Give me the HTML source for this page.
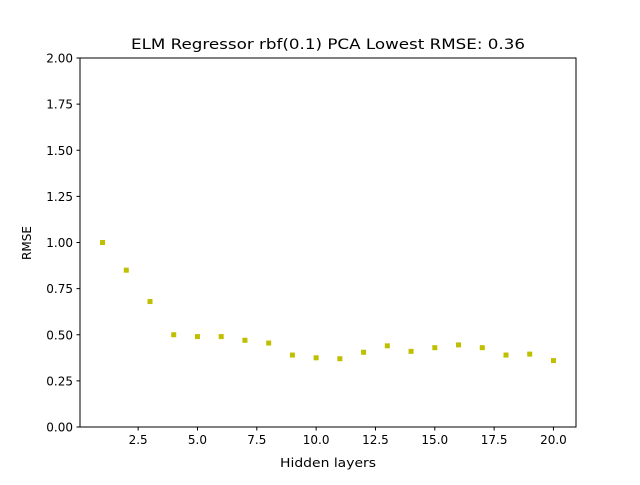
<!DOCTYPE html>
<html><head><meta charset="utf-8"><style>
body{margin:0;background:#fff;}
svg text{font-family:"DejaVu Sans","Liberation Sans",sans-serif;fill:#000;}
</style></head><body>
<svg id="chart" width="640" height="480" xmlns="http://www.w3.org/2000/svg">
<rect width="640" height="480" fill="#fff"/>
<text x="131" y="49" font-size="14.4" textLength="394" lengthAdjust="spacingAndGlyphs">ELM Regressor rbf(0.1) PCA Lowest RMSE: 0.36</text>
<g id="ticks"></g>
<g id="points"></g>
<rect x="80" y="58" width="496" height="369" fill="none" stroke="#000" stroke-width="1"/>
<text x="280" y="467" font-size="12" textLength="96" lengthAdjust="spacingAndGlyphs">Hidden layers</text>
<text x="31" y="243" font-size="12" text-anchor="middle" transform="rotate(-90 31 243)">RMSE</text>
</svg>
<script>
const layers=[1,2,3,4,5,6,7,8,9,10,11,12,13,14,15,16,17,18,19,20];
const rmse=[1.00,0.85,0.68,0.50,0.49,0.49,0.47,0.455,0.39,0.375,0.37,0.405,0.44,0.41,0.43,0.445,0.43,0.39,0.395,0.36];
const xTicks=[2.5,5.0,7.5,10.0,12.5,15.0,17.5,20.0];
const yTicks=[0,0.25,0.5,0.75,1.0,1.25,1.5,1.75,2.0];
const X0=80,X1=576,Y0=427,Y1=58,xmin=0.05,xmax=20.95,ymin=0,ymax=2;
const sx=v=>X0+(v-xmin)/(xmax-xmin)*(X1-X0);
const sy=v=>Y0-(v-ymin)/(ymax-ymin)*(Y0-Y1);
const NS="http://www.w3.org/2000/svg";
const tg=document.getElementById('ticks'),pg=document.getElementById('points');
function mk(tag,attrs,parent){const e=document.createElementNS(NS,tag);for(const k in attrs)e.setAttribute(k,attrs[k]);parent.appendChild(e);return e;}
xTicks.forEach(t=>{const x=sx(t);
const l=mk('line',{x1:x,x2:x,y1:Y0,y2:Y0+3.5,stroke:'#000'},tg);


const tx=mk('text',{x:x,y:Y0+17,'font-size':12,'text-anchor':'middle'},tg);tx.textContent=t.toFixed(1);

});
yTicks.forEach(t=>{const y=sy(t);
const l=mk('line',{x1:X0-3.5,x2:X0,y1:y,y2:y,stroke:'#000'},tg);


const tx=mk('text',{x:X0-7,y:y+4.5,'font-size':12,'text-anchor':'end'},tg);tx.textContent=t.toFixed(2);

});
layers.forEach((v,i)=>{const r=mk('rect',{x:sx(v)-2.5,y:sy(rmse[i])-2.5,width:5,height:5,fill:'#bfbf00'},pg);

});
</script>
</body></html>
